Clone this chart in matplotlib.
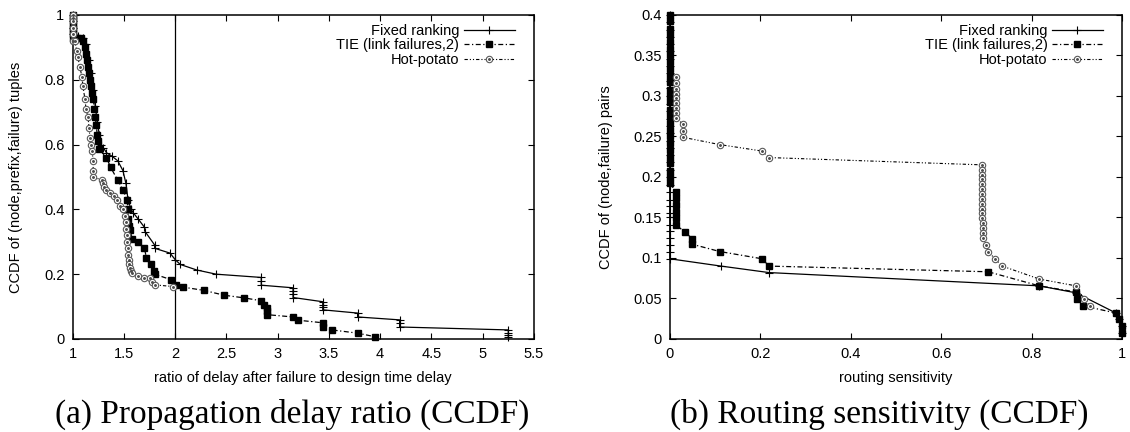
import matplotlib
matplotlib.use("Agg")
import matplotlib.pyplot as plt
from matplotlib.legend_handler import HandlerTuple

plt.rcParams['font.family'] = ['Liberation Sans', 'DejaVu Sans']

# ---------------- (a) propagation delay ratio ----------------
delay_xticks = [1, 1.5, 2, 2.5, 3, 3.5, 4, 4.5, 5, 5.5]
delay_xticklabels = ["1", "1.5", "2", "2.5", "3", "3.5", "4", "4.5", "5", "5.5"]
delay_yticks = [0, 0.2, 0.4, 0.6, 0.8, 1.0]
delay_yticklabels = ["0", "0.2", "0.4", "0.6", "0.8", "1"]
design_ratio_marker = 2.0

fixed_delay_x = [1.00, 1.00, 1.00, 1.00, 1.05, 1.10,
                 1.13, 1.16, 1.18, 1.20, 1.22, 1.24, 1.26, 1.28, 1.30,
                 1.33, 1.38, 1.44, 1.49, 1.52, 1.54, 1.57, 1.59, 1.64, 1.70, 1.71,
                 1.80, 1.80, 1.95, 2.00, 2.05, 2.21, 2.40,
                 2.84, 2.84, 2.84, 3.15, 3.15, 3.15, 3.15,
                 3.44, 3.44, 3.44, 3.44, 3.78, 3.78, 4.19, 4.19, 4.19,
                 5.25, 5.25, 5.25, 5.25]
fixed_delay_y = [1.00, 0.98, 0.96, 0.94, 0.935, 0.93,
                 0.91, 0.86, 0.82, 0.77, 0.72, 0.67, 0.63, 0.60, 0.59,
                 0.575, 0.565, 0.55, 0.52, 0.48, 0.43, 0.40, 0.39, 0.37, 0.345, 0.33,
                 0.29, 0.28, 0.265, 0.245, 0.23, 0.213, 0.20,
                 0.19, 0.178, 0.166, 0.158, 0.148, 0.138, 0.128,
                 0.115, 0.106, 0.098, 0.09, 0.08, 0.068, 0.059, 0.048, 0.037,
                 0.028, 0.02, 0.012, 0.006]

tie_delay_x = [1.00, 1.00, 1.00, 1.00, 1.00, 1.00, 1.00, 1.00,
               1.04, 1.08, 1.10,
               1.12, 1.13, 1.14, 1.15, 1.16, 1.17, 1.18, 1.19, 1.20, 1.21,
               1.22, 1.23, 1.24, 1.25, 1.26,
               1.33, 1.37, 1.44, 1.49, 1.53, 1.54, 1.54, 1.55, 1.56, 1.58,
               1.64, 1.70, 1.72, 1.76, 1.79, 1.80,
               1.96, 2.01, 2.08, 2.28, 2.48, 2.67, 2.84, 2.87, 2.90, 2.90, 2.90,
               3.15, 3.20, 3.44, 3.44, 3.53, 3.78, 3.95]
tie_delay_y = [1.00, 0.99, 0.98, 0.97, 0.96, 0.95, 0.94, 0.93,
               0.93, 0.928, 0.92,
               0.90, 0.88, 0.86, 0.84, 0.82, 0.80, 0.78, 0.76, 0.74, 0.71,
               0.685, 0.66, 0.63, 0.61, 0.585,
               0.56, 0.53, 0.49, 0.46, 0.43, 0.40, 0.37, 0.35, 0.336, 0.31,
               0.30, 0.28, 0.25, 0.23, 0.21, 0.20,
               0.183, 0.167, 0.16, 0.15, 0.135, 0.127, 0.118, 0.105, 0.095, 0.085, 0.075,
               0.068, 0.058, 0.05, 0.037, 0.028, 0.018, 0.007]

hot_delay_x = [1.00, 1.00, 1.00, 1.00, 1.00, 1.00,
               1.02, 1.04, 1.05, 1.07, 1.09, 1.10, 1.12, 1.13, 1.15, 1.16,
               1.17, 1.18, 1.19, 1.20, 1.20, 1.20,
               1.29, 1.30, 1.31, 1.33, 1.36, 1.40, 1.43, 1.46, 1.49,
               1.51, 1.52, 1.52, 1.53, 1.53, 1.54, 1.54, 1.55, 1.55, 1.56, 1.57,
               1.58, 1.64, 1.70, 1.75, 1.77, 1.80, 1.98]
hot_delay_y = [1.00, 0.99, 0.98, 0.96, 0.94, 0.92,
               0.92, 0.89, 0.87, 0.84, 0.81, 0.78, 0.74, 0.71, 0.685, 0.65,
               0.62, 0.60, 0.58, 0.55, 0.52, 0.50,
               0.49, 0.48, 0.47, 0.46, 0.45, 0.44, 0.43, 0.41, 0.40,
               0.38, 0.36, 0.34, 0.32, 0.30, 0.28, 0.26, 0.245, 0.23, 0.22, 0.21,
               0.204, 0.195, 0.188, 0.188, 0.176, 0.167, 0.162]

# ---------------- (b) routing sensitivity ----------------
sens_xticks = [0, 0.2, 0.4, 0.6, 0.8, 1.0]
sens_xticklabels = ["0", "0.2", "0.4", "0.6", "0.8", "1"]
sens_yticks = [0, 0.05, 0.1, 0.15, 0.2, 0.25, 0.3, 0.35, 0.4]
sens_yticklabels = ["0", "0.05", "0.1", "0.15", "0.2", "0.25", "0.3", "0.35", "0.4"]

fixed_sens_x = [0.0] * 35 + [0.113, 0.219, 0.817, 0.898, 0.987, 0.994, 1.0, 1.0]
fixed_sens_y = [0.40, 0.391, 0.382, 0.373, 0.364, 0.355, 0.346, 0.337, 0.328, 0.319,
                0.31, 0.30, 0.29, 0.281, 0.272, 0.263, 0.254, 0.245, 0.236, 0.227,
                0.218, 0.209, 0.20, 0.19, 0.181, 0.172, 0.164, 0.156, 0.15, 0.141,
                0.133, 0.125, 0.116, 0.108, 0.099,
                0.090, 0.082, 0.0656, 0.057, 0.032, 0.025, 0.016, 0.007]

tie_sens_x = [0.0] * 26 + [0.013] * 6 + [0.033, 0.049, 0.049, 0.11, 0.204, 0.219, 0.704,
                                         0.817, 0.898, 0.90, 0.914, 0.987, 0.994, 1.0, 1.0]
tie_sens_y = [0.40, 0.392, 0.383, 0.375, 0.367, 0.358, 0.35, 0.342, 0.333, 0.325,
              0.317, 0.308, 0.30, 0.292, 0.283, 0.275, 0.267, 0.258, 0.25, 0.242,
              0.233, 0.225, 0.217, 0.208, 0.20, 0.192,
              0.182, 0.174, 0.165, 0.157, 0.149, 0.141,
              0.132, 0.124, 0.117, 0.108, 0.099, 0.090, 0.083,
              0.0656, 0.058, 0.0495, 0.041, 0.032, 0.025, 0.016, 0.007]

hot_sens_x = [0.013] * 9 + [0.029] * 3 + [0.11, 0.204, 0.219] + [0.69] * 12 + \
             [0.692, 0.692, 0.693, 0.693, 0.70, 0.704, 0.719, 0.735, 0.817, 0.898, 0.916, 0.929]
hot_sens_y = [0.323, 0.316, 0.309, 0.303, 0.297, 0.291, 0.285, 0.279, 0.273,
              0.265, 0.257, 0.249,
              0.240, 0.232, 0.224,
              0.215, 0.209, 0.203, 0.197, 0.191, 0.185, 0.179, 0.173, 0.167, 0.161, 0.155, 0.149,
              0.143, 0.137, 0.131, 0.125, 0.116, 0.108, 0.099, 0.090, 0.074, 0.0656, 0.0495, 0.041]

series_labels = ["Fixed ranking", "TIE (link failures,2)", "Hot-potato"]

FONT = 10.5


def draw_series(ax, fx, fy, tx, ty, hx, hy):
    fixed, = ax.plot(fx, fy, color="black", lw=0.9, marker="+", ms=5.5, mew=0.8,
                     clip_on=False, zorder=3)
    tie, = ax.plot(tx, ty, color="black", lw=0.9, ls=(0, (4, 2, 1, 2)), marker="s",
                   ms=4.2, mfc="black", mec="black", clip_on=False, zorder=4)
    hot, = ax.plot(hx, hy, color="black", lw=0.8, ls=(0, (3, 1.8, 1, 1.8, 1, 1.8)),
                   marker="o", ms=4.6, mfc="white", mec="0.35", mew=0.8,
                   clip_on=False, zorder=5)
    hot_dot, = ax.plot(hx, hy, ls="none", marker="o", ms=1.1, color="0.3",
                       clip_on=False, zorder=6)
    return [fixed, tie, (hot, hot_dot)]


def style_axes(ax, xt, xtl, yt, ytl, xlim, ylim, xlabel, ylabel, ylabel_x):
    ax.set_xlim(*xlim)
    ax.set_ylim(*ylim)
    ax.set_xticks(xt)
    ax.set_xticklabels(xtl)
    ax.set_yticks(yt)
    ax.set_yticklabels(ytl)
    ax.tick_params(direction="in", top=True, right=True, length=4, width=0.8,
                   labelsize=FONT, pad=6, colors="black")
    for sp in ax.spines.values():
        sp.set_linewidth(1.1)
    ax.set_xlabel(xlabel, fontsize=FONT)
    ax.set_ylabel(ylabel, fontsize=FONT)
    ax.xaxis.set_label_coords(0.5, -0.098)
    ax.yaxis.set_label_coords(ylabel_x, 0.5)


fig = plt.figure(figsize=(11.3, 4.32), dpi=100)
ax1 = fig.add_axes([0.0643, 0.2153, 0.4082, 0.75])
ax2 = fig.add_axes([0.5929, 0.2153, 0.4, 0.75])

ax1.axvline(design_ratio_marker, color="black", lw=0.9, zorder=2)
h1 = draw_series(ax1, fixed_delay_x, fixed_delay_y, tie_delay_x, tie_delay_y,
                 hot_delay_x, hot_delay_y)
style_axes(ax1, delay_xticks, delay_xticklabels, delay_yticks, delay_yticklabels,
           (1, 5.5), (0, 1), "ratio of delay after failure to design time delay",
           "CCDF of (node,prefix,failure) tuples", -0.108)

h2 = draw_series(ax2, fixed_sens_x, fixed_sens_y, tie_sens_x, tie_sens_y,
                 hot_sens_x, hot_sens_y)
style_axes(ax2, sens_xticks, sens_xticklabels, sens_yticks, sens_yticklabels,
           (0, 1), (0, 0.4), "routing sensitivity",
           "CCDF of (node,failure) pairs", -0.126)

for ax, handles in ((ax1, h1), (ax2, h2)):
    ax.legend(handles, series_labels, loc="upper right", bbox_to_anchor=(0.958, 0.972),
              frameon=False, markerfirst=False, handlelength=3.5, handletextpad=0.3,
              labelspacing=0.02, borderpad=0, borderaxespad=0, fontsize=FONT,
              handler_map={tuple: HandlerTuple(ndivide=1)})

caption_font = dict(family=["Liberation Serif", "DejaVu Serif"], fontsize=24,
                    ha="center", va="center")
fig.text(0.259, 0.040, "(a) Propagation delay ratio (CCDF)", **caption_font)
fig.text(0.778, 0.040, "(b) Routing sensitivity (CCDF)", **caption_font)

fig.savefig("out.png", dpi=100)
